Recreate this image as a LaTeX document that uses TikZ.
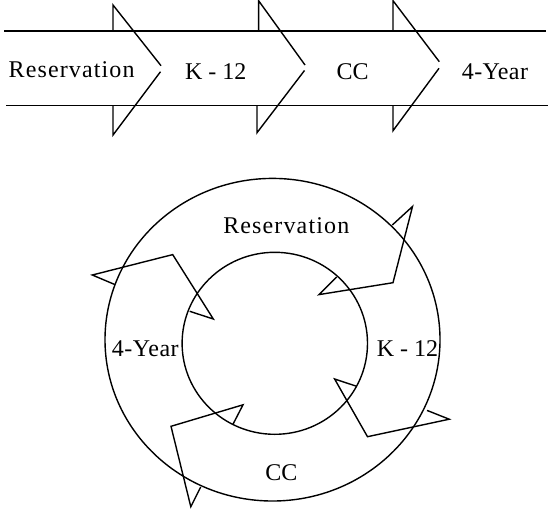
\documentclass[tikz,border=0pt]{standalone}
\usepackage{fontspec}
\setmainfont{Liberation Serif}
\begin{document}
\begin{tikzpicture}[x=1pt,y=-1pt,line width=1.4pt,line join=miter,
  lbl/.style={font=\fontsize{24}{28}\selectfont,inner sep=0pt,anchor=base},
  ringline/.style={draw,line width=1.4pt},
  bentarrow/.style={draw,line width=1.4pt}]
\useasboundingbox (0,0) rectangle (548,509);
% ---------- top row ----------
\draw (4,31) -- (546,31);
\draw (6,105.5) -- (548,105.5);
% chevron 1
\draw (113,31) -- (113,5) -- (161,65.7);
\draw (160.5,71.7) -- (113,135) -- (113,105.5);
% chevron 2
\draw (258.6,31) -- (258.6,0.7) -- (305,65);
\draw (304.5,70.5) -- (257,132.7) -- (257,105.5);
% chevron 3
\draw (393,31) -- (393,0.7) -- (439.3,61.7);
\draw (439,68.3) -- (393,130.7) -- (393,105.5);
\node[lbl] (t1) at (71.6,77.3) {\addfontfeatures{LetterSpace=4.7}Reservation};
\node[lbl] (t2) at (215.8,79) {K - 12};
\node[lbl] (t3) at (352.6,79) {CC};
\node[lbl] (t4) at (495,79) {\addfontfeatures{LetterSpace=1.5}4-Year};
% ---------- ring ----------
\draw[ringline] (272.5,339.7) ellipse [x radius=167.5,y radius=161.3];
\draw[ringline] (274.8,343.3) ellipse [x radius=92.7,y radius=91];
% bent arrowheads
\draw[bentarrow] (392.3,225) -- (412.5,206.5) -- (393,282.7) -- (319,294.6) -- (336.7,277);
\draw[bentarrow] (356.7,386.3) -- (334.6,379) -- (367.5,436.7) -- (449.2,419.2) -- (427,410.4);
\draw[bentarrow] (233,424.2) -- (243,404.8) -- (171,426.3) -- (190.8,506.7) -- (200.7,487);
\draw[bentarrow] (115,284.6) -- (92.3,275) -- (172.7,254.6) -- (213.3,319) -- (189.7,311.3);
\node[lbl] (c1) at (286.3,233.3) {\addfontfeatures{LetterSpace=4.7}Reservation};
\node[lbl] (c2) at (407.5,356.7) {K - 12};
\node[lbl] (c3) at (281.3,480.7) {CC};
\node[lbl] (c4) at (145.3,356.7) {\addfontfeatures{LetterSpace=2.2}4-Year};
\end{tikzpicture}
\end{document}
